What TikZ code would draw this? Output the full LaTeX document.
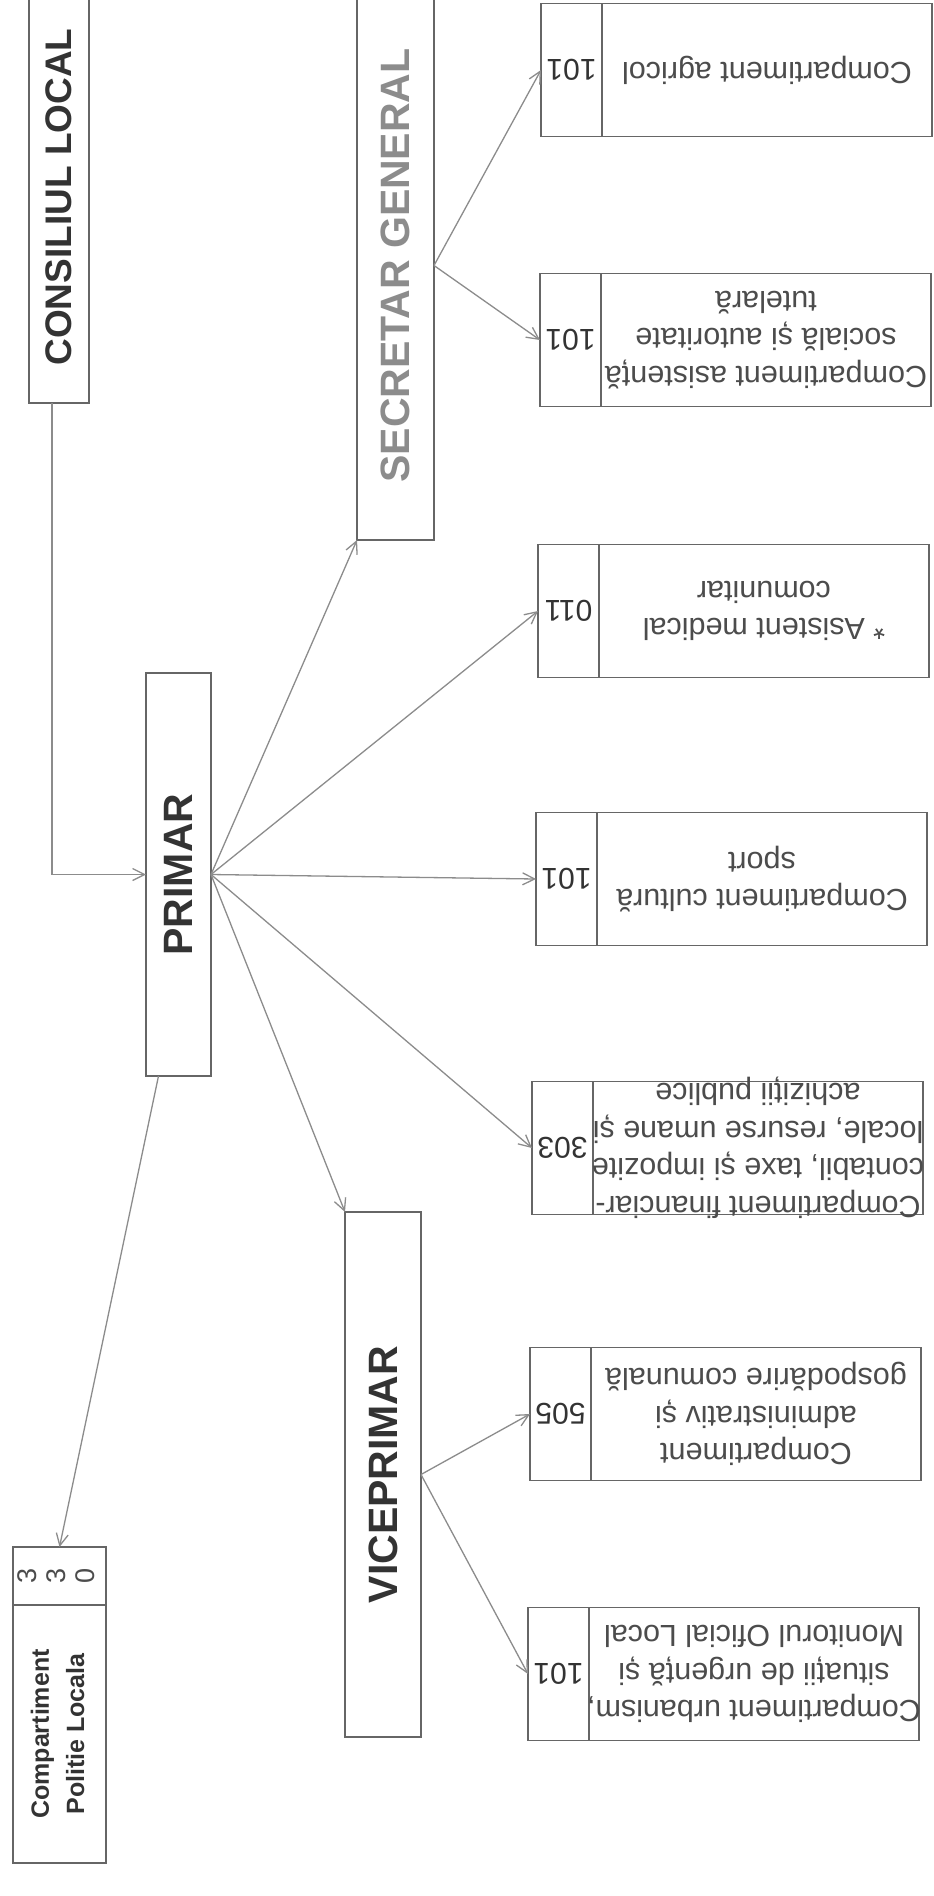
\documentclass[tikz,border=0pt]{standalone}
\usepackage{fontspec}
\setmainfont{Liberation Sans}
\usepackage{graphicx}
\usetikzlibrary{positioning,arrows.meta}

\begin{document}
\begin{tikzpicture}[
  x=1pt, y=-1pt,
  box/.style={draw=black!60, line width=1.6pt, inner sep=0pt, outer sep=0pt},
  headbox/.style={box, font=\fontsize{41}{48}\selectfont\bfseries, text=black!80},
  numbox/.style={box, minimum width=61pt, minimum height=133pt,
    font=\fontsize{30}{34}\selectfont, text=black!80},
  txtbox/.style={box, minimum width=330pt, minimum height=133pt},
  deptext/.style={rotate=180, align=center, font=\fontsize{30.5}{37.5}\selectfont, text=black!70},
  link/.style={draw=black!45, line width=1.3pt, -{Straight Barb[length=12pt,width=12pt]}}
]
\fill[white] (0,0) rectangle (934,1896);
\useasboundingbox (0,0) rectangle (934,1896);

% conducere
\node[headbox, minimum width=60pt, minimum height=412pt, font=\fontsize{37}{44}\selectfont\bfseries]
  (cl) at (59,197) {\rotatebox{90}{CONSILIUL LOCAL}};
\node[headbox, minimum width=77pt, minimum height=549pt, text=black!45]
  (sg) at (395.5,265.5) {\rotatebox{90}{SECRETAR GENERAL}};
\node[headbox, minimum width=65pt, minimum height=403pt] (pri) at (178.5,874.5) {\rotatebox{90}{PRIMAR}};
\node[headbox, minimum width=76pt, minimum height=525pt] (vp) at (383,1474.5) {\rotatebox{90}{VICEPRIMAR}};

% politie locala
\node[box, minimum width=93pt, minimum height=58pt, font=\fontsize{27}{29}\selectfont, text=black!70]
  (pn) at (59.5,1576) {\rotatebox{90}{\begin{tabular}{@{}c@{}}3\\3\\0\end{tabular}}};
\node[box, below=0pt of pn, minimum width=93pt, minimum height=258pt,
  font=\fontsize{25}{35}\selectfont\bfseries, text=black!80]
  (pol) {\rotatebox{90}{\begin{tabular}{@{}c@{}}Compartiment\\Politie Locala\end{tabular}}};

% compartimente
\foreach \id/\xl/\yc/\num/\txt in {
  agr/541/70/101/{Compartiment agricol},
  asi/540/340/101/{Compartiment asistență\\socială și autoritate\\tutelară},
  med/538/611/011/{* Asistent medical\\comunitar},
  cul/536/879/101/{Compartiment cultură\\sport},
  fin/532/1148/303/{Compartiment financiar-\\contabil, taxe și impozite\\locale, resurse umane și\\achiziții publice},
  adm/530/1414/505/{Compartiment\\administrativ și\\gospodărire comunală},
  urb/528/1674/101/{Compartiment urbanism,\\situații de urgență și\\Monitorul Oficial Local}} {
  \node[numbox] (\id-n) at (\xl+30.5,\yc) {\rotatebox{180}{\num}};
  \node[txtbox, right=0pt of \id-n] (\id) {};
  \node[deptext] (\id-t) at (\id) {\txt};
}

% legaturi
\draw[link] ([xshift=-7pt]cl.south) |- (pri.west);
\draw[link] (pri.east) -- (sg.south west);
\draw[link] (pri.east) -- (med-n.west);
\draw[link] (pri.east) -- (cul-n.west);
\draw[link] (pri.east) -- (fin-n.west);
\draw[link] (pri.east) -- (vp.north west);
\draw[link] ([xshift=-20pt]pri.south) -- (pn.north);
\draw[link] (sg.east) -- (agr-n.west);
\draw[link] (sg.east) -- (asi-n.west);
\draw[link] (vp.east) -- (adm-n.west);
\draw[link] (vp.east) -- (urb-n.west);
\end{tikzpicture}
\end{document}
